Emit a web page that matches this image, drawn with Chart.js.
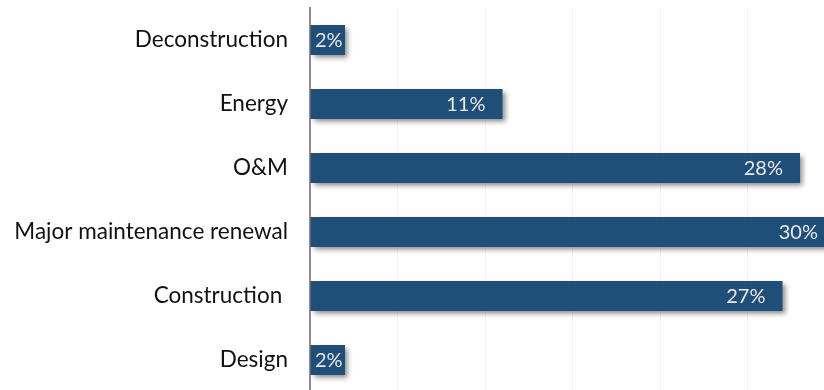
<!DOCTYPE html>
<html>
<head>
<meta charset="utf-8">
<script src="https://cdn.jsdelivr.net/npm/chart.js@4.4.1/dist/chart.umd.min.js"></script>
<style>
  html, body { margin: 0; padding: 0; background: #fff; overflow: hidden; }
  #wrap { position: relative; width: 840px; height: 394px; }
</style>
</head>
<body>
<div id="wrap"><canvas id="costChart"></canvas></div>
<script>
// Share of life-cycle cost per phase (%)
const categories = ['Deconstruction', 'Energy', 'O&M', 'Major maintenance renewal', 'Construction ', 'Design'];
const shares = [2, 11, 28, 30, 27, 2];
const axisMax = 30;
const gridStep = 5;

const BAR_COLOR = '#1f4e79';
const FONT = 'Lato, "Open Sans", sans-serif';

// drop shadow under the bars
const barShadow = {
    id: 'barShadow',
    beforeDatasetDraw(chart) {
        const ctx = chart.ctx;
        ctx.save();
        ctx.shadowColor = 'rgba(0, 0, 0, 0.45)';
        ctx.shadowBlur = 5;
        ctx.shadowOffsetX = 3;
        ctx.shadowOffsetY = 3;
    },
    afterDatasetDraw(chart) {
        chart.ctx.restore();
    }
};

// percentage labels inside the end of each bar
const valueLabels = {
    id: 'valueLabels',
    afterDatasetsDraw(chart) {
        const ctx = chart.ctx;
        const meta = chart.getDatasetMeta(0);
        ctx.save();
        ctx.font = '20px ' + FONT;
        ctx.fillStyle = '#e8e8e8';
        ctx.textBaseline = 'middle';
        meta.data.forEach((bar, i) => {
            const text = shares[i] + '%';
            const w = ctx.measureText(text).width;
            const len = bar.x - bar.base;
            if (len - 16 - w < 3) {
                ctx.textAlign = 'center';
                ctx.fillText(text, (bar.x + bar.base) / 2 + 1, bar.y + 1);
            } else {
                ctx.textAlign = 'right';
                ctx.fillText(text, bar.x - 17, bar.y + 1);
            }
        });
        ctx.restore();
    }
};

const costChart = new Chart(document.getElementById('costChart'), {
    type: 'bar',
    data: {
        labels: categories,
        datasets: [{
            data: shares,
            backgroundColor: BAR_COLOR,
            borderWidth: 0,
            barPercentage: 0.94,
            categoryPercentage: 0.5
        }]
    },
    options: {
        indexAxis: 'y',
        responsive: true,
        maintainAspectRatio: false,
        animation: false,
        layout: { padding: { top: 8, bottom: 2, right: 5, left: 0 } },
        plugins: {
            legend: { display: false },
            tooltip: { enabled: false }
        },
        scales: {
            x: {
                min: 0,
                max: axisMax,
                afterFit(scale) { scale.height = 0; },
                ticks: { display: false, stepSize: gridStep },
                grid: { color: '#f3f3f3', drawTicks: false },
                border: { display: false }
            },
            y: {
                afterFit(scale) {
                    scale.width = 310;
                    scale.paddingTop = 0;
                    scale.paddingBottom = 0;
                },
                ticks: {
                    color: '#111',
                    padding: 14,
                    font: { family: FONT, size: 22.5 }
                },
                grid: { display: false },
                border: { color: '#8c8c8c', width: 2 }
            }
        }
    },
    plugins: [barShadow, valueLabels]
});
</script>
</body>
</html>
